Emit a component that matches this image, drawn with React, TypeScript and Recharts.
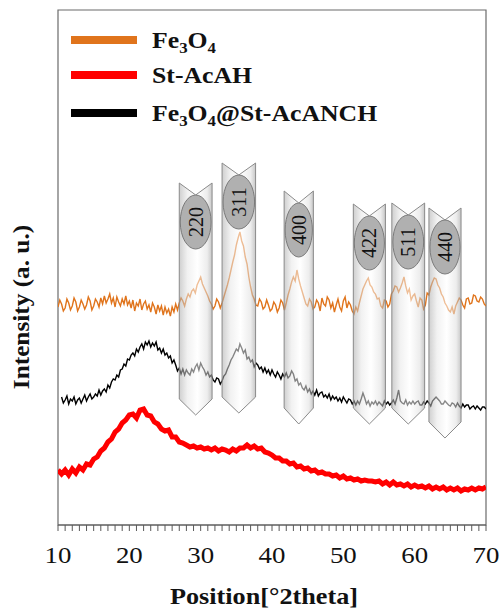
import { LineChart, Line, XAxis, YAxis, ReferenceArea, Legend } from 'recharts'

const SERIF = '"Liberation Serif", "Times New Roman", serif'

// red trace is read every 0.5 deg
const THETA = [
  10, 10.5, 11, 11.5, 12, 12.5, 13, 13.5, 14, 14.5,
  15, 15.5, 16, 16.5, 17, 17.5, 18, 18.5, 19, 19.5,
  20, 20.5, 21, 21.5, 22, 22.5, 23, 23.5, 24, 24.5,
  25, 25.5, 26, 26.5, 27, 27.5, 28, 28.5, 29, 29.5,
  30, 30.5, 31, 31.5, 32, 32.5, 33, 33.5, 34, 34.5,
  35, 35.5, 36, 36.5, 37, 37.5, 38, 38.5, 39, 39.5,
  40, 40.5, 41, 41.5, 42, 42.5, 43, 43.5, 44, 44.5,
  45, 45.5, 46, 46.5, 47, 47.5, 48, 48.5, 49, 49.5,
  50, 50.5, 51, 51.5, 52, 52.5, 53, 53.5, 54, 54.5,
  55, 55.5, 56, 56.5, 57, 57.5, 58, 58.5, 59, 59.5,
  60, 60.5, 61, 61.5, 62, 62.5, 63, 63.5, 64, 64.5,
  65, 65.5, 66, 66.5, 67, 67.5, 68, 68.5, 69, 69.5,
  70,
]
// the two noisy traces are read every 0.25 deg
const THETA_FINE = Array.from({ length: 241 }, (_, i) => 10 + i * 0.25)

const ST_ACAH = [
  55, 51, 55, 50, 56, 52, 58, 55, 61, 60,
  66, 68, 74, 77, 83, 86, 93, 96, 102, 105,
  110, 111, 107, 115, 116, 110, 109, 103, 101, 96,
  94, 95, 88, 88, 83, 82, 80, 78, 79, 77,
  78, 76, 77, 75, 77, 74, 76, 75, 73, 76,
  74, 77, 77, 80, 77, 79, 76, 77, 73, 72,
  70, 67, 67, 64, 64, 61, 62, 58, 59, 56,
  57, 54, 55, 52, 53, 51, 51, 49, 50, 47,
  49, 46, 47, 45, 46, 44, 45, 44, 44, 43,
  44, 41, 43, 40, 43, 40, 41, 39, 41, 38,
  40, 38, 39, 37, 39, 36, 38, 36, 38, 35,
  37, 35, 37, 34, 36, 35, 37, 35, 37, 36,
  38,
]

const FE3O4 = [
  218, 225, 221, 214, 217, 226, 222, 215, 219, 227, 223, 214, 218, 225, 221, 216, 220, 228, 224, 215,
  219, 226, 223, 218, 227, 221, 229, 222, 226, 231, 222, 227, 218, 228, 223, 219, 226, 221, 229, 220,
  224, 217, 225, 214, 222, 219, 226, 215, 221, 224, 216, 220, 213, 222, 218, 211, 220, 214, 219, 210,
  218, 212, 216, 209, 218, 213, 221, 215, 222, 227, 224, 219, 226, 231, 228, 234, 236, 232, 240, 244,
  248, 241, 237, 233, 229, 224, 221, 216, 219, 226, 223, 217, 222, 228, 234, 240, 247, 255, 263, 270,
  280, 287, 293, 284, 279, 268, 261, 248, 238, 230, 226, 220, 219, 226, 223, 216, 218, 225, 220, 214,
  216, 223, 220, 213, 217, 225, 222, 215, 222, 230, 236, 243, 248, 244, 255, 246, 239, 233, 227, 221,
  219, 226, 223, 216, 218, 225, 222, 214, 227, 221, 219, 228, 225, 217, 222, 213, 220, 226, 218, 214,
  224, 228, 217, 223, 220, 214, 211, 218, 214, 222, 229, 236, 240, 244, 247, 240, 238, 233, 231, 226,
  227, 219, 217, 225, 224, 218, 221, 231, 234, 239, 238, 233, 237, 242, 248, 239, 232, 236, 225, 229,
  231, 224, 218, 227, 225, 216, 220, 232, 230, 238, 243, 247, 246, 240, 237, 231, 228, 222, 219, 215,
  213, 218, 211, 219, 223, 227, 225, 220, 217, 226, 227, 221, 222, 230, 229, 224, 223, 228, 226, 221,
  219,
]

const FE3O4_ST = [
  null, null, 128, 122, 125, 129, 121, 126, 124, 128, 121, 125, 127, 122, 126, 130, 124, 128, 131, 126,
  128, 131, 129, 135, 130, 134, 136, 133, 140, 137, 143, 146, 145, 150, 148, 155, 156, 161, 159, 166,
  165, 170, 172, 169, 176, 173, 178, 181, 176, 183, 180, 184, 178, 182, 179, 183, 175, 177, 172, 176,
  170, 172, 167, 169, 162, 165, 160, 154, 157, 151, 156, 150, 155, 152, 150, 156, 153, 158, 161, 155,
  162, 158, 155, 150, 153, 148, 150, 145, 143, 147, 146, 141, 144, 149, 151, 156, 160, 165, 168, 172,
  176, 174, 181, 177, 172, 175, 166, 168, 163, 165, 158, 162, 160, 156, 158, 153, 157, 152, 155, 150,
  155, 151, 148, 153, 150, 146, 151, 148, 152, 147, 149, 154, 151, 144, 146, 140, 142, 137, 135, 139,
  133, 136, 131, 134, 130, 135, 129, 132, 133, 128, 130, 127, 131, 125, 129, 126, 128, 124, 127, 123,
  128, 125, 122, 126, 125, 121, 124, 120, 124, 121, 126, 132, 127, 121, 124, 119, 123, 121, 124, 120,
  123, 121, 119, 124, 121, 123, 120, 122, 125, 121, 127, 135, 124, 122, 121, 125, 120, 123, 121, 124,
  121, 123, 124, 120, 120, 123, 121, 124, 122, 119, 124, 126, 128, 126, 124, 121, 121, 124, 122, 120,
  119, 122, 121, 118, 122, 119, 117, 121, 118, 120, 120, 116, 118, 119, 116, 119, 117, 115, 118, 118,
  116,
]

const SERIES_NAMES = ['Fe3O4', 'St-AcAH', 'Fe3O4@St-AcANCH']

// hkl markers
const PEAK_LABELS = ['220', '311', '400', '422', '511', '440']
const PEAK_FROM = [27.0, 33.0, 41.7, 51.4, 56.8, 62.0]
const PEAK_TO = [31.6, 37.7, 45.8, 55.9, 61.4, 66.5]
const PEAK_TOP = [342, 362, 334, 321, 322, 317]
const PEAK_BOTTOM = [110, 112, 101, 101, 101, 87]

const MAJOR_TICKS = [10, 20, 30, 40, 50, 60, 70]
const MINOR_TICKS = Array.from({ length: 61 }, (_, i) => 10 + i)

const redData = THETA.map((t, i) => ({ t, st: ST_ACAH[i] }))
const fineData = THETA_FINE.map((t, i) => ({ t, fe: FE3O4[i], comp: FE3O4_ST[i] }))

const ROW_Y = [40, 75, 113]

function chemParts(name: string) {
  // digits in the formulas are subscripts
  const out: any[] = []
  let sub = false
  name.split(/(\d)/).filter(Boolean).forEach((p, i) => {
    if (/\d/.test(p)) {
      out.push(<tspan key={i} fontSize={15} dy={sub ? 0 : 5}>{p}</tspan>)
      sub = true
    } else {
      out.push(<tspan key={i} dy={sub ? -5 : 0}>{p}</tspan>)
      sub = false
    }
  })
  return out
}

function LegendBox({ payload }: any) {
  const items = [...(payload || [])].sort(
    (a: any, b: any) => SERIES_NAMES.indexOf(a.value) - SERIES_NAMES.indexOf(b.value)
  )
  return (
    <svg width={400} height={130} style={{ display: 'block' }}>
      {items.map((it: any, i: number) => (
        <g key={i}>
          <rect x={71} y={ROW_Y[i] - 4} width={66} height={8} fill={it.color} />
          <text
            transform={`translate(152,${ROW_Y[i] + 8}) scale(1.12,1)`}
            fontFamily={SERIF}
            fontWeight="bold"
            fontSize={23}
            fill="#111"
          >
            {chemParts(it.value)}
          </text>
        </g>
      ))}
    </svg>
  )
}

function AxisTick({ x, y, payload }: any) {
  if (!MAJOR_TICKS.includes(payload.value)) return <g />
  return (
    <text
      transform={`translate(${x},${y + 30}) scale(1.12,1)`}
      textAnchor="middle"
      fontFamily={SERIF}
      fontSize={24}
      fill="#111"
    >
      {payload.value}
    </text>
  )
}

function PeakArrow(props: any) {
  const { x, y, width: w, height: h, label } = props
  if (w == null || h == null) return <g />
  const notch = 12
  const tip = 16
  const d = `M${x},${y} L${x + w / 2},${y + notch} L${x + w},${y} L${x + w},${y + h - tip} L${x + w / 2},${y + h} L${x},${y + h - tip} Z`
  const ry = 27
  const cx = x + w / 2
  const cy = y + 12 + ry
  const gid = `tube-${label}`
  return (
    <g>
      <defs>
        <linearGradient id={gid} x1="0" y1="0" x2="1" y2="0">
          <stop offset="0%" stopColor="#a8a8a8" />
          <stop offset="25%" stopColor="#e6e6e6" />
          <stop offset="55%" stopColor="#ffffff" />
          <stop offset="85%" stopColor="#dedede" />
          <stop offset="100%" stopColor="#9a9a9a" />
        </linearGradient>
      </defs>
      <path d={d} fill={`url(#${gid})`} fillOpacity={0.55} stroke="#8a8a8a" strokeWidth={1} />
      <ellipse cx={cx} cy={cy} rx={w / 2 - 1} ry={ry} fill="#b0b0b0" stroke="#7a7a7a" strokeWidth={1} />
      <text
        transform={`translate(${cx},${cy}) rotate(-90)`}
        textAnchor="middle"
        dominantBaseline="central"
        fontFamily={SERIF}
        fontSize={20}
        fill="#111"
      >
        {label}
      </text>
    </g>
  )
}

function XTitle({ viewBox }: any) {
  const vb = viewBox || { x: 58, y: 525, width: 428 }
  return (
    <text
      transform={`translate(${vb.x + vb.width / 2 - 8},${vb.y + 79}) scale(1.14,1)`}
      textAnchor="middle"
      fontFamily={SERIF}
      fontWeight="bold"
      fontSize={23}
      fill="#111"
    >
      Position[°2theta]
    </text>
  )
}

function YTitle({ viewBox }: any) {
  const vb = viewBox || { x: 0, y: 10 }
  return (
    <text
      transform={`translate(29,${vb.y + 297}) rotate(-90) scale(1.1,1)`}
      textAnchor="middle"
      fontFamily={SERIF}
      fontWeight="bold"
      fontSize={23}
      fill="#111"
    >
      Intensity (a. u.)
    </text>
  )
}

export default function App() {
  return (
    <div style={{ position: 'absolute', left: 0, top: 0, width: 500, height: 612, background: '#fff' }}>
      <LineChart width={500} height={612} margin={{ top: 10, right: 14, bottom: 0, left: 0 }}>
        <XAxis
          type="number"
          dataKey="t"
          domain={[10, 70]}
          ticks={MINOR_TICKS}
          interval={0}
          tickSize={6}
          height={87}
          axisLine={{ stroke: '#595959' }}
          tickLine={{ stroke: '#595959' }}
          tick={(p: any) => <AxisTick {...p} />}
          label={{ content: (p: any) => <XTitle {...p} /> }}
          allowDataOverflow
        />
        <YAxis
          type="number"
          domain={[0, 515]}
          width={58}
          tick={false}
          axisLine={false}
          tickLine={false}
          label={{ content: (p: any) => <YTitle {...p} /> }}
          allowDataOverflow
        />
        <ReferenceArea x1={10} x2={70} y1={0} y2={515} fill="none" stroke="#6b6b6b" strokeWidth={1.2} />
        <Line data={fineData} dataKey="fe" name="Fe3O4" stroke="#e0741c" strokeWidth={1.4} dot={false} isAnimationActive={false} />
        <Line data={redData} dataKey="st" name="St-AcAH" stroke="#ff0000" strokeWidth={5} dot={false} isAnimationActive={false} />
        <Line data={fineData} dataKey="comp" name="Fe3O4@St-AcANCH" stroke="#000000" strokeWidth={1.4} dot={false} isAnimationActive={false} />
        {PEAK_LABELS.map((lab, i) => (
          <ReferenceArea
            key={lab}
            x1={PEAK_FROM[i]}
            x2={PEAK_TO[i]}
            y1={PEAK_BOTTOM[i]}
            y2={PEAK_TOP[i]}
            zIndex={450}
            shape={(p: any) => <PeakArrow {...p} label={lab} />}
          />
        ))}
        <Legend
          layout="vertical"
          align="center"
          verticalAlign="middle"
          wrapperStyle={{ left: 0, top: 0, width: 400, height: 130 }}
          content={(p: any) => <LegendBox {...p} />}
        />
      </LineChart>
    </div>
  )
}
